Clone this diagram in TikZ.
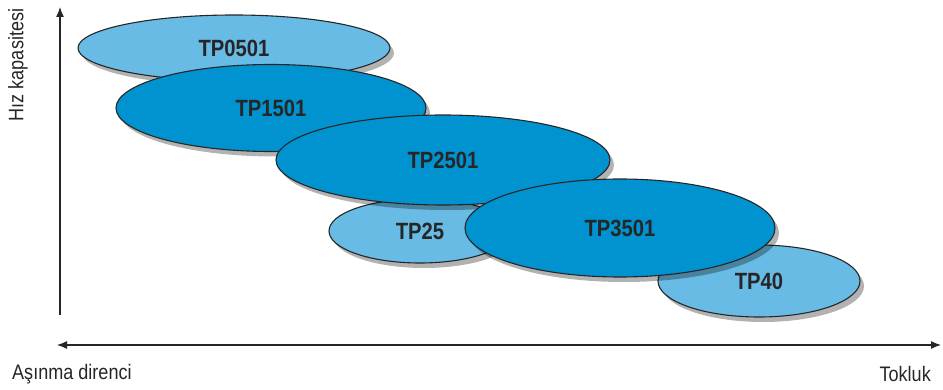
\documentclass[tikz,border=0pt]{standalone}
\usepackage{fontspec}
\setmainfont{Liberation Sans}
\newfontfamily\tpfont[FakeStretch=0.86]{Liberation Sans}
\usetikzlibrary{shapes.geometric, shadows, arrows.meta}

\definecolor{tplight}{RGB}{104,187,228}
\definecolor{tpdark}{RGB}{0,147,208}

\begin{document}
\begin{tikzpicture}[x=1pt, y=-1pt,
        tpbox/.style={ellipse, draw=black!85, line width=1.1pt, inner sep=0pt, text=black!85, font=\tpfont\bfseries\fontsize{23.5}{23.5}\selectfont, drop shadow={shadow xshift=4pt, shadow yshift=-5pt, fill=black, opacity=0.3}},
        lightbox/.style={tpbox, fill=tplight},
        darkbox/.style={tpbox, fill=tpdark},
        axis/.style={line width=1.2pt, black!85},
        axislabel/.style={inner sep=0pt, text=black!85, font=\tpfont\fontsize{21}{21}\selectfont},
    ]
        \useasboundingbox (0,0) rectangle (943,390);

        % Grades, back to front
        \node[lightbox, minimum width=312pt, minimum height=66pt] (tp0501) at (234,48) {TP0501};
        \node[darkbox, minimum width=310pt, minimum height=87pt] (tp1501) at (271,108) {TP1501};
        \node[lightbox, minimum width=182pt, minimum height=64pt] (tp25) at (420,231) {TP25};
        \node[darkbox, minimum width=334pt, minimum height=90pt] (tp2501) at (443,160) {TP2501};
        \node[lightbox, minimum width=202pt, minimum height=72pt] (tp40) at (759,281) {TP40};
        \node[darkbox, minimum width=310pt, minimum height=98pt] (tp3501) at (620,228) {TP3501};

        % Axes
        \coordinate (ybot) at (60,315);
        \coordinate (ytop) at (60,7);
        \coordinate (xleft) at (57,345);
        \coordinate (xright) at (941,345);
        \draw[axis, -{Latex[length=10pt, width=8pt]}] (ybot) -- (ytop);
        \draw[axis, {Latex[length=10pt, width=8pt]}-{Latex[length=10pt, width=8pt]}] (xleft) -- (xright);

        % Axis labels
        \node[axislabel, rotate=90] (yname) at (18,65) {Hız kapasitesi};
        \node[axislabel, anchor=west] (xlow) at (12,374) {Aşınma direnci};
        \node[axislabel, anchor=east] (xhigh) at (931,374) {Tokluk};
    \end{tikzpicture}
\end{document}
